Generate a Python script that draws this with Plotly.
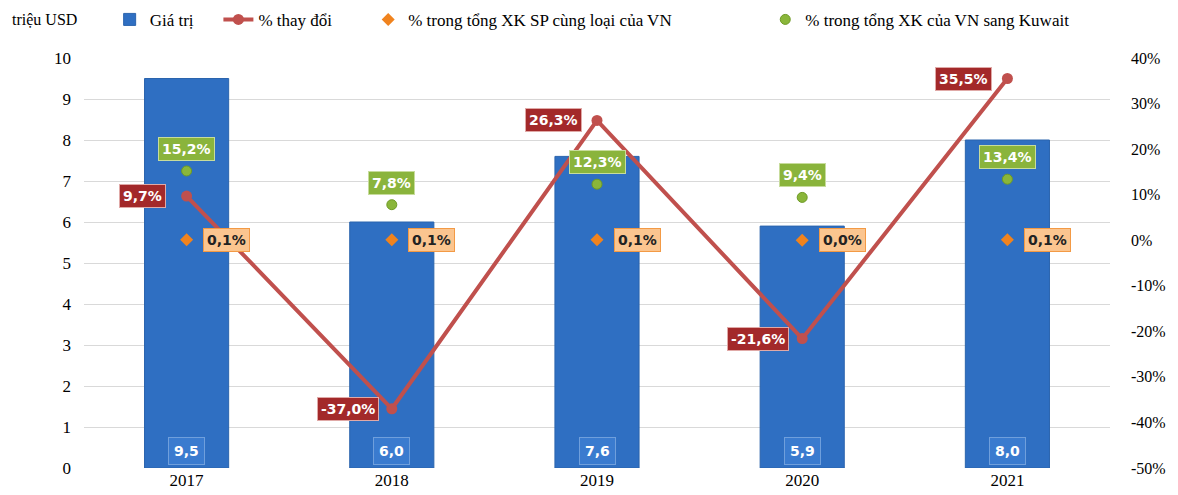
import plotly.graph_objects as go

years = ["2017", "2018", "2019", "2020", "2021"]
gia_tri = [9.5, 6.0, 7.6, 5.9, 8.0]
thay_doi = [9.7, -37.0, 26.3, -21.6, 35.5]
ty_trong_sp = [0.1, 0.1, 0.1, 0.0, 0.1]
ty_trong_kuwait = [15.2, 7.8, 12.3, 9.4, 13.4]
pct_ticks = [-50, -40, -30, -20, -10, 0, 10, 20, 30, 40]

SERIF = "Liberation Serif"
LABEL_FONT = "DejaVu Sans"


def vn(v, pct=True):
    s = f"{v:.1f}".replace(".", ",")
    return s + "%" if pct else s


fig = go.Figure()

fig.add_trace(go.Bar(
    x=years, y=gia_tri, name="Giá trị", legend="legend",
    marker=dict(color="#2f6fc2", line=dict(color="#2b64ad", width=1)),
    width=0.41,
))
fig.add_trace(go.Scatter(
    x=years, y=thay_doi, name="% thay đổi", yaxis="y2", legend="legend2",
    mode="lines+markers",
    line=dict(color="#c0504d", width=4),
    marker=dict(color="#c0504d", size=11),
))
fig.add_trace(go.Scatter(
    x=years, y=ty_trong_sp, name="% trong tổng XK SP cùng loại của VN", yaxis="y2",
    legend="legend3", mode="markers",
    marker=dict(color="#f0831e", size=10, symbol="diamond"),
))
fig.add_trace(go.Scatter(
    x=years, y=ty_trong_kuwait, name="% trong tổng XK của VN sang Kuwait", yaxis="y2",
    legend="legend4", mode="markers",
    marker=dict(color="#8ab63a", size=10, line=dict(color="#6e9a25", width=1)),
))

ann = []
for i in range(len(years)):
    # nhãn giá trị cột
    ann.append(dict(x=i, y=0, yref="y", text=f"<b>{vn(gia_tri[i], False)}</b>",
                    showarrow=False, yshift=17,
                    font=dict(family=LABEL_FONT, size=14, color="white"),
                    bgcolor="#3a7bcf", bordercolor="#6f9fdc", borderwidth=1, borderpad=5))
    # nhãn % thay đổi
    ann.append(dict(x=i, y=thay_doi[i], yref="y2", text=f"<b>{vn(thay_doi[i])}</b>",
                    showarrow=False, xshift=-44,
                    font=dict(family=LABEL_FONT, size=14, color="white"),
                    bgcolor="#a3292a", bordercolor="#e0a9a7", borderwidth=1, borderpad=3))
    # nhãn % sang Kuwait
    ann.append(dict(x=i, y=ty_trong_kuwait[i], yref="y2", text=f"<b>{vn(ty_trong_kuwait[i])}</b>",
                    showarrow=False, yshift=22,
                    font=dict(family=LABEL_FONT, size=14, color="white"),
                    bgcolor="#8ab43c", bordercolor="#c7dc9c", borderwidth=1, borderpad=3))
    # nhãn % SP cùng loại
    ann.append(dict(x=i, y=ty_trong_sp[i], yref="y2", text=f"<b>{vn(ty_trong_sp[i])}</b>",
                    showarrow=False, xshift=40,
                    font=dict(family=LABEL_FONT, size=14, color="#222222"),
                    bgcolor="#fbc58f", bordercolor="#f39a45", borderwidth=1, borderpad=3))

ann.append(dict(x=-0.072, xref="paper", y=1.093, yref="paper", yanchor="middle",
                text="triệu USD", showarrow=False, xanchor="left",
                font=dict(family=SERIF, size=16, color="black")))


def leg(x):
    return dict(orientation="h", x=x, xanchor="left", y=1.093, yanchor="middle",
                font=dict(family=SERIF, size=17), itemwidth=30,
                bgcolor="rgba(0,0,0,0)")


fig.update_layout(
    width=1178, height=495,
    margin=dict(l=76, r=76, t=50, b=35, autoexpand=False),
    plot_bgcolor="white", paper_bgcolor="white",
    font=dict(family=SERIF, size=16, color="black"),
    showlegend=True,
    legend=leg(0.025),
    legend2=leg(0.131),
    legend3=leg(0.277),
    legend4=leg(0.664),
    xaxis=dict(type="category", range=[-0.5, 4.5], showline=False, ticks="",
               tickfont=dict(family=SERIF, size=17)),
    yaxis=dict(range=[0, 10], dtick=1, showgrid=True, gridcolor="#d9d9d9", gridwidth=1,
               zeroline=False, ticks="", ticklabelstandoff=12,
               tickfont=dict(family=SERIF, size=17)),
    yaxis2=dict(range=[-50, 40], tickvals=pct_ticks, ticktext=[f"{v}%" for v in pct_ticks],
                overlaying="y", side="right", showgrid=False,
                zeroline=False, ticklabelstandoff=20,
                tickfont=dict(family=SERIF, size=16)),
    annotations=ann,
)

fig.write_html("out.html")
